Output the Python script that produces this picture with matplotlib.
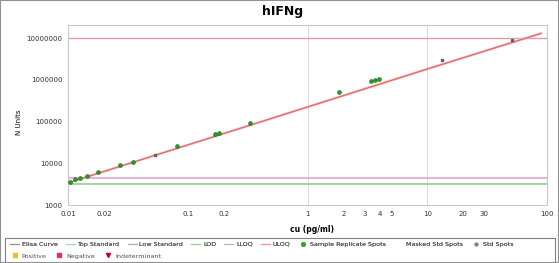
import matplotlib
matplotlib.use('Agg')
import matplotlib.pyplot as plt
from matplotlib.lines import Line2D
from matplotlib.patches import Rectangle

# Elisa fit curve (conc in pg/ml vs units)
curve_x = [0.01, 0.1, 1, 10, 89]
curve_y = [3400, 27500, 224000, 1820000, 13000000]

# sample replicate spots (green)
sample_x = [0.0104, 0.0114, 0.0126, 0.0144, 0.0178, 0.0271, 0.0348, 0.081,
            0.168, 0.181, 0.329, 1.85, 3.41, 3.69, 3.98]
sample_y = [3550, 4200, 4450, 4970, 6200, 9100, 10700, 25900,
            50000, 53600, 93000, 513000, 940000, 1000000, 1050000]

# standard spots (gray)
std_x = [0.053, 13.3, 51]
std_y = [15800, 3000000, 9100000]

# horizontal limits
uloq = 10200000
lloq = 4450
lod = 3200

xticks = [0.01, 0.02, 0.1, 0.2, 1, 2, 3, 4, 5, 10, 20, 30, 100]
xtick_labels = ['0.01', '0.02', '0.1', '0.2', '1', '2', '3', '4', '5', '10', '20', '30', '100']
yticks = [1000, 10000, 100000, 1000000, 10000000]
ytick_labels = ['1000', '10000', '100000', '1000000', '10000000']

fig = plt.figure(figsize=(5.59, 2.63), dpi=100)
ax = fig.add_axes([68/559, 1 - 205/263, 479/559, 180/263])

ax.set_xscale('log')
ax.set_yscale('log')
ax.set_xlim(0.01, 100)
ax.set_ylim(1000, 2.07e7)

ax.axvline(1, color='#d8d8d8', lw=0.7, zorder=0)
ax.axvline(10, color='#d8d8d8', lw=0.7, zorder=0)

ax.axhline(uloq, color='#e89aa8', lw=1.0)
ax.axhline(lloq, color='#e8a0d8', lw=1.2)
ax.axhline(lod, color='#8fd18a', lw=1.2)

ax.plot(curve_x, curve_y, color='#f4b8b8', lw=1.8, zorder=2)
ax.plot(curve_x, curve_y, color='#d86060', lw=0.7, zorder=3)
ax.plot(sample_x, sample_y, 'o', color='#2a9a2a', ms=2.8, mec='#1a6f1a', mew=0.4, zorder=4)
ax.plot(std_x, std_y, 's', color='#606060', ms=1.8, zorder=4)

ax.set_xticks(xticks)
ax.set_xticklabels(xtick_labels)
ax.set_yticks(yticks)
ax.set_yticklabels(ytick_labels)
ax.minorticks_off()
ax.tick_params(length=0, labelsize=5, colors='#303030', pad=4)
for s in ax.spines.values():
    s.set_color('#c8c8c8')
    s.set_linewidth(0.8)

fig.text(283/559, 1 - 11/263, 'hIFNg', fontsize=9, fontweight='bold', ha='center', va='center')
fig.text(312/559, 1 - 229/263, 'cu (pg/ml)', fontsize=5.5, fontweight='bold', ha='center', va='center')
fig.text(19/559, 1 - 122/263, 'N Units', fontsize=5, rotation=90, ha='center', va='center')

# legend box
fig.add_artist(Rectangle((5/559, 0.0), 550/559, 25/263, transform=fig.transFigure,
                         fill=False, ec='#808080', lw=0.8))
fig.add_artist(Rectangle((0.0, 0.0), 1.0, 1.0, transform=fig.transFigure,
                         fill=False, ec='#909090', lw=1.5))

row1 = [
    Line2D([], [], color='#909090', lw=0.8, label='Elisa Curve'),
    Line2D([], [], color='#a8c8e0', lw=0.8, label='Top Standard'),
    Line2D([], [], color='#a0b0c0', lw=0.8, label='Low Standard'),
    Line2D([], [], color='#90d090', lw=0.8, label='LOD'),
    Line2D([], [], color='#b8b0d0', lw=0.8, label='LLOQ'),
    Line2D([], [], color='#e890a8', lw=0.8, label='ULOQ'),
    Line2D([], [], marker='o', ls='', color='#2ea82e', ms=2.5, label='Sample Replicate Spots'),
    Line2D([], [], marker='o', ls='', color='white', ms=2.5, label='Masked Std Spots'),
    Line2D([], [], marker='o', ls='', color='#808080', ms=1.8, label='Std Spots'),
]
row2 = [
    Line2D([], [], marker='s', ls='', color='#f0c020', ms=3, label='Positive'),
    Line2D([], [], marker='s', ls='', color='#e03060', ms=3, label='Negative'),
    Line2D([], [], marker='v', ls='', color='#b01030', ms=3, label='Indeterminant'),
]
kw = dict(frameon=False, fontsize=4.6, handlelength=1.4, handletextpad=0.4,
          columnspacing=1.3, borderpad=0, labelcolor='#505050')
leg1 = fig.legend(handles=row1, ncol=9, loc='center left',
                  bbox_to_anchor=(7/559, 1 - 244/263), **kw)
fig.add_artist(leg1)
fig.legend(handles=row2, ncol=3, loc='center left',
           bbox_to_anchor=(7/559, 1 - 256/263), **kw)

fig.savefig('out.png', dpi=100)
